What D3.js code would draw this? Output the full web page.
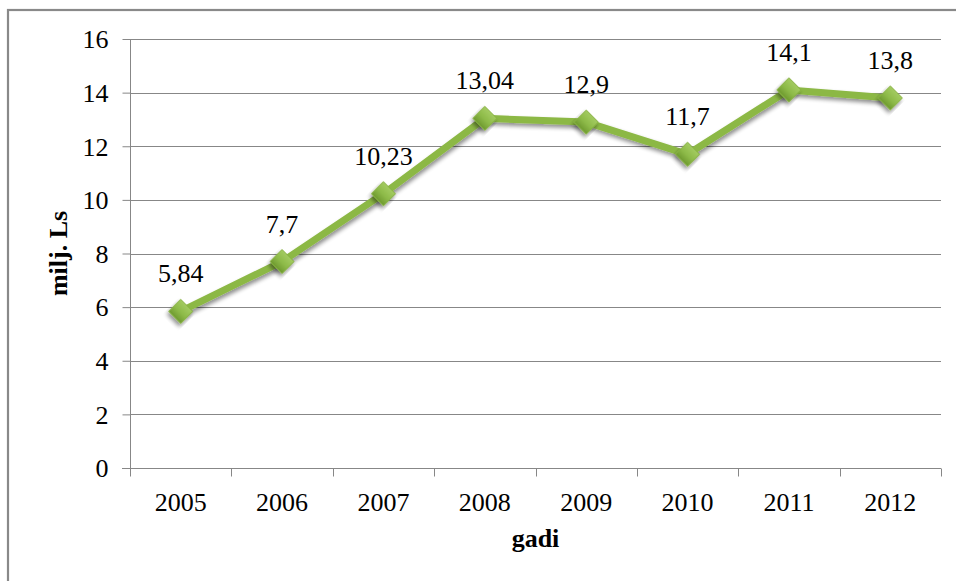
<!DOCTYPE html>
<html>
<head>
<meta charset="utf-8">
<script src="https://cdn.jsdelivr.net/npm/d3@7"></script>
<style>
  html, body { margin: 0; padding: 0; background: #fff; }
  svg { display: block; }
  svg text { font-family: 'Liberation Serif', 'DejaVu Serif', serif !important; fill: #000; }
</style>
</head>
<body>
<svg id="chart" width="956" height="581"></svg>
<script>
// Yearly values, millions of lats
const years = ["2005", "2006", "2007", "2008", "2009", "2010", "2011", "2012"];
const values = [5.84, 7.7, 10.23, 13.04, 12.9, 11.7, 14.1, 13.8];
const valueLabels = ["5,84", "7,7", "10,23", "13,04", "12,9", "11,7", "14,1", "13,8"];
const yTicks = [0, 2, 4, 6, 8, 10, 12, 14, 16];
const yTitle = "milj. Ls";
const xTitle = "gadi";

const svg = d3.select("#chart");
const W = 956, H = 581;
const plot = { left: 130, right: 941, top: 39, bottom: 468 };
const fontSize = 26;
const serif = "'Liberation Serif', 'DejaVu Serif', serif";

// outer frame of the chart area
svg.append("rect")
  .attr("x", 8).attr("y", 10)
  .attr("width", W + 10).attr("height", H + 10)
  .attr("fill", "#fff").attr("stroke", "#898989").attr("stroke-width", 2.2);

const defs = svg.append("defs");
const shadow = defs.append("filter").attr("id", "shadow")
  .attr("x", "-20%").attr("y", "-20%").attr("width", "140%").attr("height", "160%");
shadow.append("feGaussianBlur").attr("in", "SourceAlpha").attr("stdDeviation", 2.2).attr("result", "b");
shadow.append("feOffset").attr("in", "b").attr("dx", 1).attr("dy", 3).attr("result", "o");
shadow.append("feComponentTransfer").attr("in", "o").attr("result", "s")
  .append("feFuncA").attr("type", "linear").attr("slope", 0.45);
const merge = shadow.append("feMerge");
merge.append("feMergeNode").attr("in", "s");
merge.append("feMergeNode").attr("in", "SourceGraphic");

const grad = defs.append("linearGradient").attr("id", "diamondFill")
  .attr("x1", 0).attr("y1", 0).attr("x2", 0).attr("y2", 1);
grad.append("stop").attr("offset", "0%").attr("stop-color", "#a3cb60");
grad.append("stop").attr("offset", "55%").attr("stop-color", "#8dba48");
grad.append("stop").attr("offset", "100%").attr("stop-color", "#6f9a30");

const x = d3.scaleBand().domain(years).range([plot.left, plot.right]).padding(0);
const y = d3.scaleLinear().domain([0, 16]).range([plot.bottom, plot.top]);

// horizontal gridlines
svg.append("g")
  .selectAll("line").data(yTicks.filter(t => t > 0)).join("line")
  .attr("x1", plot.left).attr("x2", plot.right)
  .attr("y1", d => Math.round(y(d)) + 0.5).attr("y2", d => Math.round(y(d)) + 0.5)
  .attr("stroke", "#878787").attr("stroke-width", 1);

// y axis
const yAxis = svg.append("g")
  .attr("transform", `translate(${plot.left + 0.5},0)`)
  .call(d3.axisLeft(y).tickValues(yTicks).tickSize(8).tickPadding(14).tickFormat(d3.format("d")));
yAxis.attr("font-family", serif);
yAxis.selectAll("line").attr("stroke", "#878787");
yAxis.select(".domain").attr("stroke", "#878787").attr("d", `M0,${plot.top}V${plot.bottom}`);
yAxis.selectAll("text").attr("font-size", fontSize).attr("font-family", serif).attr("dy", "0.34em");

// x axis with ticks on category boundaries
const bounds = years.map(d => x(d)).concat([plot.right]);
const xAxisG = svg.append("g").attr("transform", `translate(0,${Math.round(plot.bottom) + 0.5})`);
xAxisG.append("line").attr("x1", plot.left - 8).attr("x2", plot.right)
  .attr("stroke", "#878787");
xAxisG.selectAll("line.tick").data(bounds).join("line").attr("class", "tick")
  .attr("x1", d => Math.round(d) + 0.5).attr("x2", d => Math.round(d) + 0.5)
  .attr("y1", 0).attr("y2", 8).attr("stroke", "#878787");
xAxisG.selectAll("text").data(years).join("text")
  .attr("x", d => x(d) + x.bandwidth() / 2).attr("y", 42)
  .attr("text-anchor", "middle").attr("font-size", fontSize).attr("font-family", serif)
  .text(d => d);

// axis titles
svg.append("text")
  .attr("transform", `translate(67,${(plot.top + plot.bottom) / 2}) rotate(-90)`)
  .attr("text-anchor", "middle").attr("font-size", fontSize).attr("font-weight", "bold")
  .attr("font-family", serif)
  .text(yTitle);
svg.append("text")
  .attr("x", (plot.left + plot.right) / 2).attr("y", 547)
  .attr("text-anchor", "middle").attr("font-size", fontSize).attr("font-weight", "bold")
  .attr("font-family", serif)
  .text(xTitle);

// series line
const cx = d => x(d) + x.bandwidth() / 2;
const pts = years.map((yr, i) => [cx(yr), y(values[i])]);
svg.append("path")
  .attr("d", d3.line()(pts))
  .attr("fill", "none").attr("stroke", "#8cb845").attr("stroke-width", 7)
  .attr("stroke-linejoin", "round")
  .attr("filter", "url(#shadow)");

// diamond markers
svg.append("g").selectAll("path").data(pts).join("path")
  .attr("transform", d => `translate(${d[0]},${d[1]}) rotate(45)`)
  .attr("d", d3.symbol().type(d3.symbolSquare).size(288))
  .attr("fill", "url(#diamondFill)")
  .attr("stroke", "#86b141").attr("stroke-width", 0.8)
  .attr("filter", "url(#shadow)");

// value labels
svg.append("g").selectAll("text").data(pts).join("text")
  .attr("x", d => d[0]).attr("y", d => d[1] - 29)
  .attr("text-anchor", "middle").attr("font-size", fontSize).attr("font-family", serif)
  .text((d, i) => valueLabels[i]);
</script>
</body>
</html>
